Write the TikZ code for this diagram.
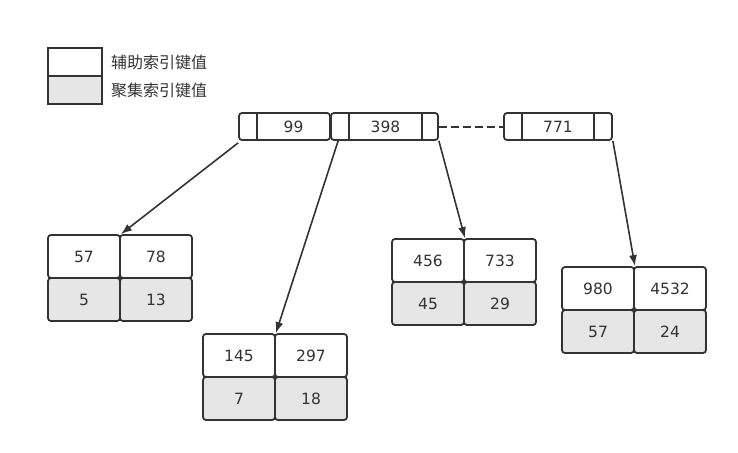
\documentclass[tikz,border=0pt]{standalone}
\usepackage{fontspec}
\setmainfont{DejaVu Sans}
\newfontfamily\cjk{Noto Sans CJK SC}
\usetikzlibrary{arrows.meta}

\definecolor{ink}{HTML}{333333}
\definecolor{leafgray}{HTML}{E6E6E6}

\tikzset{
	keybox/.style={draw=ink, line width=1.8pt, rounded corners=3pt, minimum height=27pt, inner sep=0pt},
	keyval/.style={minimum height=27pt, inner sep=0pt, text=ink, font=\fontsize{15.5}{18}\selectfont},
	cell/.style={draw=ink, line width=1.8pt, rounded corners=3pt, minimum width=72pt, minimum height=43pt, inner sep=0pt, text=ink, font=\fontsize{15.5}{18}\selectfont},
	upper/.style={cell, fill=white},
	lower/.style={cell, fill=leafgray},
	pointer/.style={draw=ink, line width=1.6pt, -{Latex[length=11pt,width=8pt]}},
	legend/.style={draw=ink, line width=1.8pt, minimum width=54pt, minimum height=28pt, inner sep=0pt}
}

\begin{document}
\begin{tikzpicture}[x=1pt, y=-1pt]

	\useasboundingbox (0,0) rectangle (738,452);

	% legend
	\node (g1) [legend, fill=white] at (75, 62) {};
	\node (g2) [legend, fill=leafgray] at (75, 90) {};
	\node (t1) [anchor=west, text=ink, inner sep=0pt, font=\cjk\fontsize{16}{19}\selectfont] at (111, 62) {辅助索引键值};
	\node (t2) [anchor=west, text=ink, inner sep=0pt, font=\cjk\fontsize{16}{19}\selectfont] at (111, 90) {聚集索引键值};

	% root page
	\node (k1) [keybox, minimum width=91pt] at (284.5, 126.5) {};
	\node (k2) [keybox, minimum width=107pt] at (384.5, 126.5) {};
	\node (k3) [keybox, minimum width=108pt] at (558, 126.5) {};
	\node (v1) [keyval, minimum width=73pt] at (293.5, 126.5) {99};
	\node (v2) [keyval, minimum width=73pt] at (385.5, 126.5) {398};
	\node (v3) [keyval, minimum width=72pt] at (558, 126.5) {771};

	\draw[ink, line width=1.8pt] (v1.north west) -- (v1.south west);
	\draw[ink, line width=1.8pt] (v2.north west) -- (v2.south west);
	\draw[ink, line width=1.8pt] (v2.north east) -- (v2.south east);
	\draw[ink, line width=1.8pt] (v3.north west) -- (v3.south west);
	\draw[ink, line width=1.8pt] (v3.north east) -- (v3.south east);

	% leaf pages
	\node (a1) [upper] at (84, 256.5) {57};
	\node (a2) [upper] at (156, 256.5) {78};
	\node (a3) [lower] at (84, 299.5) {5};
	\node (a4) [lower] at (156, 299.5) {13};

	\node (b1) [upper] at (239, 355.5) {145};
	\node (b2) [upper] at (311, 355.5) {297};
	\node (b3) [lower] at (239, 398.5) {7};
	\node (b4) [lower] at (311, 398.5) {18};

	\node (c1) [upper] at (428, 260.5) {456};
	\node (c2) [upper] at (500, 260.5) {733};
	\node (c3) [lower] at (428, 303.5) {45};
	\node (c4) [lower] at (500, 303.5) {29};

	\node (d1) [upper] at (598, 288.5) {980};
	\node (d2) [upper] at (670, 288.5) {4532};
	\node (d3) [lower] at (598, 331.5) {57};
	\node (d4) [lower] at (670, 331.5) {24};

	\draw[ink, line width=2pt, dash pattern=on 8pt off 4pt] (k2.east) -- (k3.west);

	\draw[pointer] ([yshift=-2pt]k1.south west) -- (a1.north east);
	\draw[pointer] ([xshift=8pt]k2.south west) -- (b1.north east);
	\draw[pointer] (k2.south east) -- (c1.north east);
	\draw[pointer] (k3.south east) -- (d1.north east);

\end{tikzpicture}
\end{document}
